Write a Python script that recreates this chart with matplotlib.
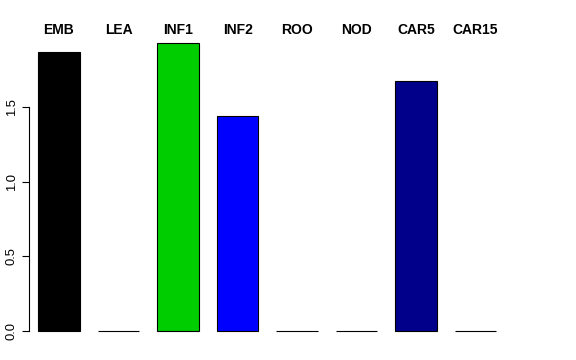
import matplotlib
matplotlib.use("Agg")
import matplotlib.pyplot as plt
import matplotlib.transforms as mtransforms

plt.rcParams["font.family"] = ["Liberation Sans", "DejaVu Sans"]

tissues = ["EMB", "LEA", "INF1", "INF2", "ROO", "NOD", "CAR5", "CAR15"]
values = [1.868, 0.0, 1.928, 1.440, 0.0, 0.0, 1.675, 0.0]
colors = ["black", "white", "#00CD00", "blue", "white", "white", "#00008B", "white"]
yticks = [0.0, 0.5, 1.0, 1.5]

W, H = 576, 360
fig = plt.figure(figsize=(W / 100, H / 100), dpi=100)

# plot region in pixels (R-style barplot)
left_px, right_px = 29, 503
top_px, bottom_px = 31.9, 342.5
ax = fig.add_axes([left_px / W, 1 - bottom_px / H,
                   (right_px - left_px) / W, (bottom_px - top_px) / H])

x = list(range(1, len(tissues) + 1))
ax.bar(x, values, width=0.7, color=colors, edgecolor="black", linewidth=0.8)

ax.set_xlim(0.496, 8.46)
ax.set_ylim(-0.077, 2.005)

for s in ["top", "right", "bottom"]:
    ax.spines[s].set_visible(False)
ax.spines["left"].set_bounds(0, 1.5)
ax.spines["left"].set_linewidth(0.8)
ax.set_xticks([])
ax.set_yticks(yticks)
ax.set_yticklabels([f"{v:.1f}" for v in yticks], rotation=90, va="center", fontsize=9.4)
ax.tick_params(axis="y", length=5, width=0.8, pad=3)

trans = mtransforms.blended_transform_factory(ax.transData, ax.transAxes)
for xi, name in zip(x, tissues):
    ax.text(xi, 1.005, name, transform=trans, ha="center", va="center",
            fontsize=10, fontweight="bold")

fig.savefig("out.png", dpi=100)
